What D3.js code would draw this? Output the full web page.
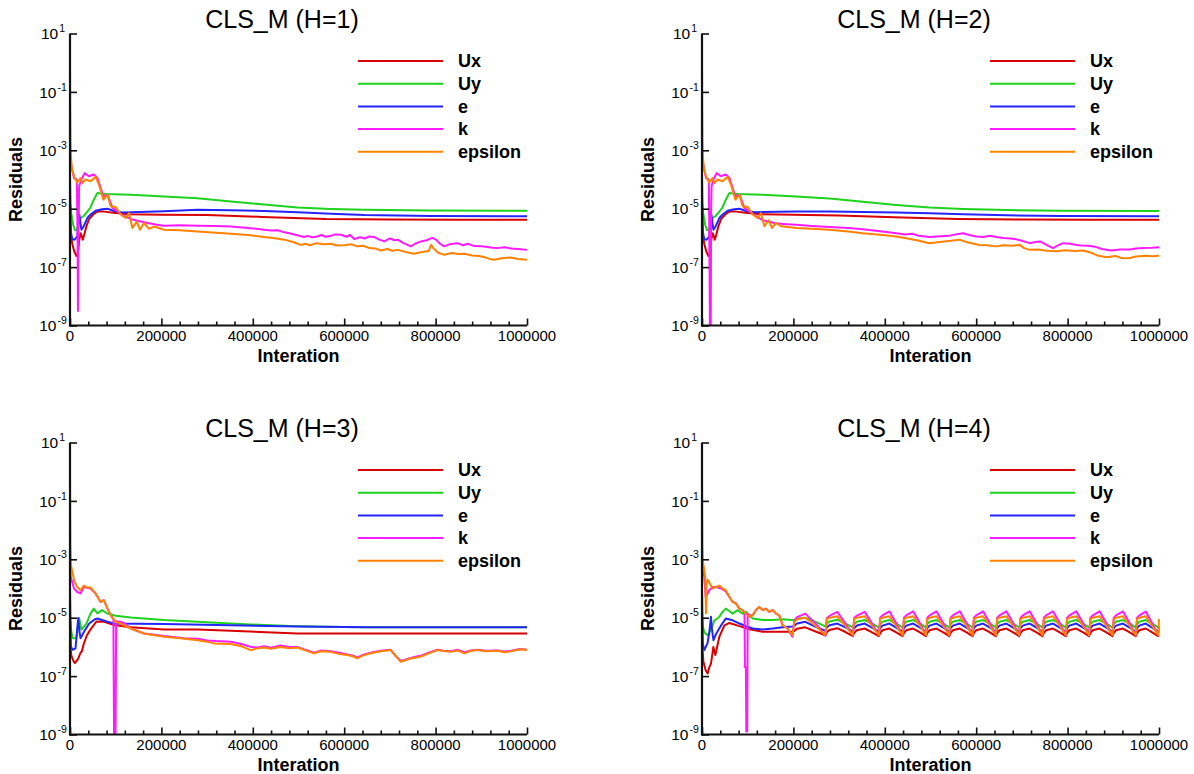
<!DOCTYPE html>
<html><head><meta charset="utf-8">
<script src="https://cdn.jsdelivr.net/npm/d3@7"></script>
<style>
body{margin:0;background:#fff;}
svg{display:block;font-family:Arial,"Liberation Sans",sans-serif;}
</style></head><body>
<svg id="chart" width="1194" height="774"></svg>
<script>
// ---------- categories / labels ----------
const seriesNames = ["Ux", "Uy", "e", "k", "epsilon"];
const seriesColors = ["#d80000", "#1ed21e", "#2424ff", "#ff1aff", "#ff8200"];
const panelTitles = ["CLS_M (H=1)", "CLS_M (H=2)", "CLS_M (H=3)", "CLS_M (H=4)"];
const xTickValues = [0, 200000, 400000, 600000, 800000, 1000000];
const xMinorStep = 40000;
const yTickExponents = [1, -1, -3, -5, -7, -9];
const xLabel = "Interation";
const yLabel = "Residuals";

// ---------- data: [iteration (thousands), log10(residual)] ----------
const h1_Ux = [[0,-5.4],[2,-5.9],[5,-6.2],[9,-6.45],[14,-6.62],[17,-6.55],[20,-6.1],[23,-5.84],[26,-5.95],[28,-6.06],[31,-5.9],[36,-5.6],[42,-5.35],[52,-5.18],[60,-5.1],[75,-5.1],[95,-5.14],[130,-5.19],[200,-5.21],[300,-5.22],[420,-5.28],[560,-5.35],[700,-5.37],[850,-5.38],[1000,-5.38]];
const h1_Uy = [[0,-4.77],[3,-5.2],[7,-5.55],[11,-5.74],[15,-5.72],[19,-5.5],[23,-5.32],[30,-5.25],[38,-5.1],[45,-4.95],[52,-4.69],[60,-4.46],[68,-4.48],[80,-4.5],[133,-4.52],[206,-4.58],[279,-4.64],[352,-4.75],[425,-4.86],[498,-4.96],[571,-5.01],[644,-5.04],[790,-5.06],[1000,-5.07]];
const h1_e = [[0,-3.9],[1,-5.0],[2,-5.8],[5,-6.05],[10,-6.06],[16,-5.95],[19,-5.4],[20.5,-5.2],[23,-5.5],[25,-5.72],[30,-5.6],[38,-5.32],[45,-5.2],[56,-5.07],[70,-5.02],[82,-5.0],[100,-5.1],[116,-5.13],[206,-5.09],[279,-5.04],[352,-5.05],[425,-5.08],[498,-5.12],[571,-5.17],[644,-5.22],[790,-5.25],[1000,-5.26]];
const h1_k = [[0,-2.7],[1.5,-3.43],[8.8,-3.95],[15,-4.0],[16.5,-6],[17.5,-8.5],[18.5,-6],[20,-4.23],[25,-4.0],[32,-3.78],[41,-3.89],[52,-3.83],[60,-3.95],[73,-4.58],[82,-4.52],[93,-4.98],[104,-5.09],[118,-5.25],[133,-5.35],[150,-5.42],[170,-5.49],[190,-5.55],[206,-5.58],[240,-5.57],[279,-5.58],[320,-5.59],[352,-5.61],[390,-5.66],[425,-5.72],[440,-5.75],[455,-5.74],[469,-5.81],[480,-5.84],[495,-5.9],[512,-5.97],[520,-5.93],[530,-5.98],[541,-5.95],[550,-5.9],[560,-5.96],[571,-5.93],[580,-5.88],[593,-5.89],[605,-5.96],[613,-5.9],[622,-6.04],[635,-5.98],[645,-6.02],[655,-5.95],[666,-5.97],[677,-6.06],[688,-6.12],[700,-6.02],[710,-6.08],[717,-6.06],[730,-6.18],[746,-6.29],[755,-6.2],[768,-6.12],[780,-6.08],[793,-6.0],[800,-6.05],[810,-6.2],[819,-6.29],[830,-6.22],[848,-6.18],[860,-6.25],[870,-6.2],[885,-6.28],[899,-6.29],[910,-6.3],[925,-6.34],[936,-6.35],[950,-6.32],[965,-6.36],[980,-6.38],[1000,-6.41]];
const h1_eps = [[0,0.0],[0.5,-1.5],[1,-2.5],[1.5,-3.1],[4,-3.6],[8.8,-3.9],[16,-4.1],[21,-4.0],[23,-3.95],[27,-4.12],[34,-4.0],[45,-4.06],[56,-3.91],[63.5,-4.18],[73,-4.69],[82,-4.52],[89,-4.92],[100,-4.94],[111,-5.2],[122,-5.32],[129,-5.15],[136.5,-5.66],[146,-5.44],[153,-5.72],[162,-5.49],[173,-5.69],[184,-5.61],[206,-5.72],[240,-5.74],[279,-5.78],[320,-5.82],[352,-5.86],[390,-5.9],[425,-5.97],[445,-6.0],[469,-6.06],[490,-6.15],[505,-6.24],[515,-6.2],[525,-6.25],[540,-6.18],[555,-6.22],[571,-6.2],[585,-6.26],[600,-6.25],[615,-6.22],[629,-6.29],[642,-6.27],[655,-6.35],[668,-6.36],[680,-6.43],[695,-6.38],[705,-6.44],[717,-6.41],[735,-6.48],[753,-6.54],[770,-6.48],[785,-6.45],[790,-6.24],[795,-6.35],[805,-6.5],[819,-6.58],[835,-6.52],[850,-6.55],[863,-6.54],[880,-6.6],[895,-6.62],[907,-6.66],[918,-6.72],[928,-6.75],[945,-6.7],[965,-6.67],[980,-6.72],[1000,-6.75]];

const h2_Ux = [[0,-5.4],[2,-5.9],[5,-6.2],[9,-6.45],[14,-6.62],[17,-6.55],[20,-6.1],[23,-5.84],[26,-5.95],[28,-6.06],[31,-5.9],[36,-5.6],[42,-5.35],[52,-5.18],[60,-5.1],[75,-5.1],[95,-5.14],[130,-5.19],[200,-5.21],[300,-5.23],[420,-5.29],[560,-5.35],[700,-5.37],[850,-5.38],[1000,-5.38]];
const h2_Uy = [[0,-4.77],[3,-5.2],[7,-5.55],[11,-5.74],[15,-5.72],[19,-5.5],[23,-5.32],[30,-5.25],[38,-5.1],[45,-4.95],[52,-4.69],[60,-4.46],[68,-4.48],[80,-4.5],[133,-4.52],[206,-4.58],[279,-4.65],[352,-4.76],[425,-4.87],[498,-4.96],[571,-5.01],[644,-5.04],[790,-5.07],[1000,-5.08]];
const h2_e = [[0,-3.9],[1,-5.0],[2,-5.8],[5,-6.05],[10,-6.06],[16,-5.95],[19,-5.4],[20.5,-5.2],[23,-5.5],[25,-5.72],[30,-5.6],[38,-5.32],[45,-5.2],[56,-5.07],[70,-5.02],[82,-5.0],[100,-5.1],[116,-5.12],[206,-5.1],[279,-5.1],[352,-5.11],[425,-5.13],[498,-5.16],[571,-5.19],[644,-5.22],[790,-5.25],[1000,-5.26]];
const h2_k = [[0,-2.7],[1.5,-3.4],[8.8,-3.95],[15,-4.0],[16.5,-7],[17.5,-9.6],[19,-9.6],[20,-5],[21,-4.23],[25,-4.0],[32,-3.78],[41,-3.89],[52,-3.83],[60,-3.95],[73,-4.58],[82,-4.52],[93,-4.98],[104,-5.09],[118,-5.25],[133,-5.4],[146,-5.44],[160,-5.5],[185,-5.53],[206,-5.55],[240,-5.59],[279,-5.63],[320,-5.66],[352,-5.7],[390,-5.77],[425,-5.84],[445,-5.88],[460,-5.86],[475,-5.93],[498,-5.97],[515,-5.95],[540,-5.93],[555,-5.88],[571,-5.84],[585,-5.9],[600,-5.95],[615,-5.97],[630,-5.93],[644,-5.97],[660,-6.0],[675,-6.02],[688,-6.05],[700,-6.1],[717,-6.18],[730,-6.14],[740,-6.12],[755,-6.25],[768,-6.35],[780,-6.25],[790,-6.18],[805,-6.2],[820,-6.24],[830,-6.26],[845,-6.27],[860,-6.3],[875,-6.38],[895,-6.43],[915,-6.4],[936,-6.4],[950,-6.36],[965,-6.35],[985,-6.34],[1000,-6.32]];
const h2_eps = [[0,0.0],[0.5,-1.5],[1,-2.5],[1.5,-3.1],[4,-3.6],[8.8,-3.9],[16,-4.1],[21,-4.0],[23,-3.95],[27,-4.12],[34,-4.0],[45,-4.06],[56,-3.91],[63.5,-4.18],[73,-4.69],[82,-4.52],[89,-4.92],[100,-4.94],[111,-5.2],[122,-5.32],[129,-5.15],[136.5,-5.6],[146,-5.4],[153,-5.66],[162,-5.49],[173,-5.6],[206,-5.66],[240,-5.69],[279,-5.72],[320,-5.78],[352,-5.84],[390,-5.89],[425,-5.95],[450,-6.02],[475,-6.1],[498,-6.18],[515,-6.15],[530,-6.12],[545,-6.1],[563,-6.06],[580,-6.15],[595,-6.2],[607,-6.24],[625,-6.25],[644,-6.29],[660,-6.25],[680,-6.27],[695,-6.24],[705,-6.35],[717,-6.41],[735,-6.4],[755,-6.44],[775,-6.46],[795,-6.42],[815,-6.45],[834,-6.43],[850,-6.5],[865,-6.6],[885,-6.66],[905,-6.62],[920,-6.7],[936,-6.69],[950,-6.64],[970,-6.61],[985,-6.63],[1000,-6.61]];

const h3_Ux = [[0,-5.87],[3,-6.3],[8,-6.5],[11,-6.55],[18,-6.4],[23,-6.2],[26,-6.15],[30,-5.9],[37,-5.6],[45,-5.4],[58,-5.13],[75,-5.14],[96,-5.25],[133,-5.33],[206,-5.4],[279,-5.4],[352,-5.45],[498,-5.54],[750,-5.54],[1000,-5.54]];
const h3_Uy = [[0,-4.96],[3,-5.5],[6,-5.7],[14,-5.7],[20,-5.01],[25,-5.41],[36,-5.2],[45,-4.85],[52,-4.69],[60,-4.85],[70,-4.74],[82,-4.86],[100,-4.93],[133,-4.99],[206,-5.08],[279,-5.14],[352,-5.2],[425,-5.25],[498,-5.29],[600,-5.32],[650,-5.33],[1000,-5.33]];
const h3_e = [[0,-4.05],[1,-5.2],[2,-6.0],[6,-6.1],[12,-6.05],[18,-5.01],[21,-5.5],[23,-5.7],[32,-5.45],[42,-5.2],[55,-5.05],[60,-5.03],[82,-5.14],[96,-5.2],[206,-5.22],[352,-5.26],[498,-5.3],[650,-5.33],[1000,-5.33]];
const h3_k = [[0,-2.73],[1.5,-3.6],[8.8,-4.0],[16,-4.12],[23,-4.17],[30.6,-3.95],[45,-4.0],[56,-4.17],[67,-4.46],[74,-4.4],[82,-4.69],[89,-4.91],[95,-5.05],[96.5,-9.5],[99.5,-9.5],[101,-5.12],[111,-5.14],[120,-5.2],[133,-5.37],[162,-5.54],[206,-5.63],[250,-5.7],[279,-5.72],[300,-5.78],[320,-5.8],[352,-5.82],[375,-5.9],[396,-6.0],[410,-6.02],[425,-5.98],[440,-6.03],[461,-5.95],[480,-6.0],[498,-6.0],[515,-6.1],[534,-6.2],[550,-6.12],[570,-6.15],[590,-6.2],[607,-6.26],[620,-6.3],[629,-6.36],[640,-6.28],[658,-6.2],[680,-6.13],[702,-6.1],[712,-6.3],[724,-6.48],[735,-6.43],[746,-6.38],[758,-6.33],[768,-6.3],[785,-6.2],[804,-6.1],[818,-6.13],[833,-6.15],[848,-6.1],[863,-6.18],[878,-6.12],[892,-6.1],[910,-6.13],[936,-6.12],[950,-6.16],[965,-6.13],[985,-6.07],[1000,-6.1]];
const h3_eps = [[0,0.05],[0.5,-1.5],[1,-2.5],[2,-3.2],[7.3,-3.59],[8.8,-3.72],[16,-3.95],[23,-4.06],[30.6,-3.9],[38,-3.97],[45,-3.97],[56,-4.17],[67,-4.46],[74,-4.4],[82,-4.69],[89,-4.91],[100,-5.14],[111,-5.2],[133,-5.37],[162,-5.54],[206,-5.65],[242,-5.7],[279,-5.77],[300,-5.82],[315,-5.88],[352,-5.9],[375,-5.98],[396,-6.11],[410,-6.05],[425,-6.02],[440,-6.06],[461,-6.0],[480,-6.05],[498,-6.02],[515,-6.12],[534,-6.22],[550,-6.15],[570,-6.17],[590,-6.24],[607,-6.28],[620,-6.33],[629,-6.39],[640,-6.3],[658,-6.22],[680,-6.15],[702,-6.11],[712,-6.3],[724,-6.51],[735,-6.45],[746,-6.4],[758,-6.36],[768,-6.33],[785,-6.22],[804,-6.11],[818,-6.14],[833,-6.17],[848,-6.12],[863,-6.22],[878,-6.13],[892,-6.11],[910,-6.15],[936,-6.13],[950,-6.18],[965,-6.15],[985,-6.08],[1000,-6.11]];

// H=4 : early transient
const h4early_Ux = [[0,-5.8],[3,-6.5],[8,-6.8],[12.4,-6.91],[16,-6.7],[19.7,-6.57],[24.8,-6.0],[29.2,-6.28],[38,-5.65],[49,-5.26],[60,-5.18],[82,-5.29],[104,-5.4],[133,-5.48],[169,-5.48]];
const h4early_Uy = [[0,-4.8],[2,-5.3],[5,-5.5],[12,-5.6],[20,-5.4],[27,-5.1],[38,-4.97],[45,-4.8],[52,-4.69],[60,-4.77],[67,-4.86],[78,-4.74],[89,-4.86],[96,-4.8],[111,-5.03],[133,-5.08],[155,-5.08],[176,-5.05]];
const h4early_e = [[0,-4.0],[1,-5.2],[2,-5.9],[5,-6.11],[12,-5.88],[16,-5.5],[19.7,-4.97],[21,-5.3],[25,-5.77],[31,-5.55],[42,-5.26],[52,-5.03],[67,-5.09],[82,-5.2],[96,-5.29],[111,-5.37],[133,-5.4],[155,-5.37],[176,-5.33]];
const h4early_k = [[0,-2.6],[1,-3.2],[5,-3.6],[8,-4.29],[16,-4.06],[23,-3.95],[31,-3.95],[42,-4.0],[52,-4.1],[60,-4.29],[67,-4.46],[74,-4.5],[82,-4.69],[89,-4.74],[93,-4.85],[94,-6.7],[96,-6.7],[97,-8.9],[99,-8.9],[100,-4.86],[104,-4.95],[111,-4.9],[118,-4.74],[125,-4.63],[133,-4.74],[140,-4.69],[147,-4.8],[155,-4.74],[162,-4.86],[169,-4.92],[176,-5.25],[187,-5.37]];
const h4early_eps = [[0,0.0],[0.5,-1.5],[1,-2.5],[1.5,-3.03],[5,-3.38],[7,-3.6],[8.8,-4.85],[10,-3.9],[12.4,-3.7],[16,-3.8],[23,-4.0],[30.6,-3.95],[38,-3.9],[45,-4.0],[52,-4.06],[60,-4.29],[67,-4.46],[74,-4.52],[82,-4.69],[89,-4.74],[96,-4.86],[104,-4.97],[111,-4.92],[118,-4.74],[125,-4.63],[133,-4.74],[140,-4.69],[147,-4.8],[155,-4.74],[162,-4.86],[169,-4.92],[176,-5.25],[187,-5.37]];

// H=4 : oscillating part, sampled at shared iterations (thousands)
const h4cycleX = [198,202,208,226,250, 270,273,279,296,314, 330,333,339,356,372, 387,390,395,410,425, 439,442,447,462,477, 490,493,498,513,528, 541,544,549,564,579, 592,595,600,615,630, 643,646,651,666,681, 694,697,702,717,732, 745,748,753,768,783, 796,799,804,819,834, 847,850,855,870,885, 898,901,906,921,936, 949,952,957,971,985, 998,1000];
const h4cycle_Ux = [-5.48,-5.45,-5.38,-5.33,-5.48, -5.6,-5.5,-5.42,-5.36,-5.49, -5.63,-5.52,-5.43,-5.37,-5.5, -5.63,-5.52,-5.43,-5.37,-5.5, -5.63,-5.52,-5.43,-5.37,-5.5, -5.63,-5.52,-5.43,-5.37,-5.5, -5.63,-5.52,-5.43,-5.37,-5.5, -5.63,-5.52,-5.43,-5.37,-5.5, -5.63,-5.52,-5.43,-5.37,-5.5, -5.63,-5.52,-5.43,-5.37,-5.5, -5.63,-5.52,-5.43,-5.37,-5.5, -5.63,-5.52,-5.43,-5.37,-5.5, -5.63,-5.52,-5.43,-5.37,-5.5, -5.63,-5.52,-5.43,-5.37,-5.5, -5.63,-5.52,-5.43,-5.37,-5.5, -5.63,-5.6];
const h4cycle_Uy = [-5.08,-5.07,-5.03,-5.0,-5.15, -5.3,-5.2,-5.13,-5.07,-5.2, -5.33,-5.22,-5.14,-5.08,-5.2, -5.33,-5.22,-5.14,-5.08,-5.2, -5.33,-5.22,-5.14,-5.08,-5.2, -5.33,-5.22,-5.14,-5.08,-5.2, -5.33,-5.22,-5.14,-5.08,-5.2, -5.33,-5.22,-5.14,-5.08,-5.2, -5.33,-5.22,-5.14,-5.08,-5.2, -5.33,-5.22,-5.14,-5.08,-5.2, -5.33,-5.22,-5.14,-5.08,-5.2, -5.33,-5.22,-5.14,-5.08,-5.2, -5.33,-5.22,-5.14,-5.08,-5.2, -5.33,-5.22,-5.14,-5.08,-5.2, -5.33,-5.22,-5.14,-5.08,-5.2, -5.33,-5.3];
const h4cycle_e = [-5.3,-5.27,-5.2,-5.14,-5.32, -5.45,-5.33,-5.26,-5.2,-5.33, -5.48,-5.36,-5.27,-5.2,-5.34, -5.48,-5.36,-5.27,-5.2,-5.34, -5.48,-5.36,-5.27,-5.2,-5.34, -5.48,-5.36,-5.27,-5.2,-5.34, -5.48,-5.36,-5.27,-5.2,-5.34, -5.48,-5.36,-5.27,-5.2,-5.34, -5.48,-5.36,-5.27,-5.2,-5.34, -5.48,-5.36,-5.27,-5.2,-5.34, -5.48,-5.36,-5.27,-5.2,-5.34, -5.48,-5.36,-5.27,-5.2,-5.34, -5.48,-5.36,-5.27,-5.2,-5.34, -5.48,-5.36,-5.27,-5.2,-5.34, -5.48,-5.36,-5.27,-5.2,-5.34, -5.48,-5.45];
const h4cycle_k = [-5.65,-5.1,-4.98,-4.86,-5.22, -5.62,-5.02,-4.94,-4.8,-5.2, -5.62,-5.0,-4.93,-4.8,-5.2, -5.6,-5.0,-4.92,-4.78,-5.19, -5.6,-5.0,-4.92,-4.78,-5.19, -5.6,-5.0,-4.92,-4.78,-5.19, -5.6,-5.0,-4.92,-4.78,-5.19, -5.6,-5.0,-4.92,-4.78,-5.19, -5.6,-5.0,-4.92,-4.78,-5.19, -5.6,-5.0,-4.92,-4.78,-5.19, -5.6,-5.0,-4.92,-4.78,-5.19, -5.6,-5.0,-4.92,-4.78,-5.19, -5.6,-5.0,-4.92,-4.78,-5.19, -5.6,-5.0,-4.92,-4.78,-5.19, -5.6,-5.0,-4.92,-4.79,-5.19, -5.6,-5.3];
const h4cycle_eps = [-5.6,-5.15,-5.05,-5.0,-5.3, -5.6,-5.05,-5.0,-4.95,-5.28, -5.6,-5.05,-5.0,-4.95,-5.28, -5.6,-5.05,-5.0,-4.95,-5.28, -5.6,-5.05,-5.0,-4.95,-5.28, -5.6,-5.05,-5.0,-4.95,-5.28, -5.6,-5.05,-5.0,-4.95,-5.28, -5.6,-5.05,-5.0,-4.95,-5.28, -5.6,-5.05,-5.0,-4.95,-5.28, -5.6,-5.05,-5.0,-4.95,-5.28, -5.6,-5.05,-5.0,-4.95,-5.28, -5.6,-5.05,-5.0,-4.95,-5.28, -5.6,-5.05,-5.0,-4.95,-5.28, -5.6,-5.05,-5.0,-4.95,-5.28, -5.6,-5.05,-5.0,-4.95,-5.28, -5.6,-5.05];

// ---------- assemble ----------
function joinCycle(early, vals) { return early.concat(h4cycleX.map((cx, i) => [cx, vals[i]])); }
const panelData = [
  [h1_Ux, h1_Uy, h1_e, h1_k, h1_eps],
  [h2_Ux, h2_Uy, h2_e, h2_k, h2_eps],
  [h3_Ux, h3_Uy, h3_e, h3_k, h3_eps],
  [joinCycle(h4early_Ux, h4cycle_Ux), joinCycle(h4early_Uy, h4cycle_Uy), joinCycle(h4early_e, h4cycle_e),
   joinCycle(h4early_k, h4cycle_k), joinCycle(h4early_eps, h4cycle_eps)]
];

// ---------- layout ----------
const panels = [
  {x0: 70, yTop: 33.5}, {x0: 702, yTop: 33.5},
  {x0: 70, yTop: 442.5}, {x0: 702, yTop: 442.5}
];
const plotW = 457, plotH = 292;

const svg = d3.select("#chart");
const defs = svg.append("defs");

panels.forEach((p, pi) => {
  const x0 = p.x0, x1 = p.x0 + plotW, yT = p.yTop, yB = p.yTop + plotH;
  const x = d3.scaleLinear().domain([0, 1000000]).range([x0, x1]);
  const y = d3.scaleLog().domain([1e-9, 10]).range([yB, yT]);
  const g = svg.append("g");

  // title
  g.append("text").attr("x", x0 + 212).attr("y", yT - 5.5)
    .attr("text-anchor", "middle").attr("font-size", 25).attr("fill", "#000")
    .text(panelTitles[pi]);

  // clip
  const cid = "clip" + pi;
  defs.append("clipPath").attr("id", cid).append("rect")
    .attr("x", x0).attr("y", yT - 2).attr("width", plotW + 2).attr("height", plotH + 2);

  // series lines
  const line = d3.line().x(d => x(d[0] * 1000)).y(d => y(Math.pow(10, d[1])));
  const lg = g.append("g").attr("clip-path", `url(#${cid})`);
  panelData[pi].forEach((s, si) => {
    lg.append("path").datum(s).attr("d", line)
      .attr("fill", "none").attr("stroke", seriesColors[si])
      .attr("stroke-width", 2).attr("stroke-linejoin", "round");
  });

  // x axis (ticks inward)
  const xAxis = d3.axisTop(x).tickValues(xTickValues).tickSize(7).tickFormat("");
  const xa = g.append("g").attr("transform", `translate(0,${yB})`).call(xAxis);
  const minors = d3.range(0, 1000001, xMinorStep).filter(v => v % 200000 !== 0);
  const xm = g.append("g").attr("transform", `translate(0,${yB})`)
    .call(d3.axisTop(x).tickValues(minors).tickSize(4).tickFormat(""));
  [xa, xm].forEach(a => {
    a.select(".domain").remove();
    a.selectAll(".tick line").attr("stroke", "#111").attr("stroke-width", 1.6);
  });
  xTickValues.forEach(v => {
    g.append("text").attr("x", x(v)).attr("y", yB + 15.5).attr("text-anchor", "middle")
      .attr("font-size", 15).attr("fill", "#000").text(String(v));
  });

  // y axis (ticks inward)
  const yAxis = d3.axisRight(y).tickValues(yTickExponents.map(e => Math.pow(10, e))).tickSize(7).tickFormat("");
  const ya = g.append("g").attr("transform", `translate(${x0},0)`).call(yAxis);
  ya.select(".domain").remove();
  ya.selectAll(".tick line").attr("stroke", "#111").attr("stroke-width", 1.6);
  yTickExponents.forEach(e => {
    const t = g.append("text").attr("x", x0 - 17).attr("y", y(Math.pow(10, e)) + 5.6)
      .attr("text-anchor", "middle").attr("fill", "#000");
    t.append("tspan").attr("font-size", 15.5).text("10");
    t.append("tspan").attr("font-size", 10.5).attr("dy", -7).attr("dx", 1).text(String(e));
  });

  // axis lines
  g.append("line").attr("x1", x0).attr("x2", x0).attr("y1", yT).attr("y2", yB + 1)
    .attr("stroke", "#111").attr("stroke-width", 2.2);
  g.append("line").attr("x1", x0 - 1).attr("x2", x1).attr("y1", yB).attr("y2", yB)
    .attr("stroke", "#111").attr("stroke-width", 2.2);

  // axis titles
  g.append("text").attr("x", (x0 + x1) / 2).attr("y", yB + 36.5).attr("text-anchor", "middle")
    .attr("font-size", 18).attr("font-weight", "bold").attr("fill", "#000").text(xLabel);
  g.append("text").attr("transform", `translate(${x0 - 48.5},${(yT + yB) / 2}) rotate(-90)`)
    .attr("text-anchor", "middle").attr("font-size", 18).attr("font-weight", "bold")
    .attr("fill", "#000").text(yLabel);

  // legend
  seriesNames.forEach((name, si) => {
    const ly = yT + 27.5 + si * 22.7;
    g.append("line").attr("x1", x0 + 288).attr("x2", x0 + 373).attr("y1", ly).attr("y2", ly)
      .attr("stroke", seriesColors[si]).attr("stroke-width", 2);
    g.append("text").attr("x", x0 + 388).attr("y", ly + 6.3)
      .attr("font-size", 18).attr("font-weight", "bold").attr("fill", "#000").text(name);
  });
});
</script>
</body></html>
